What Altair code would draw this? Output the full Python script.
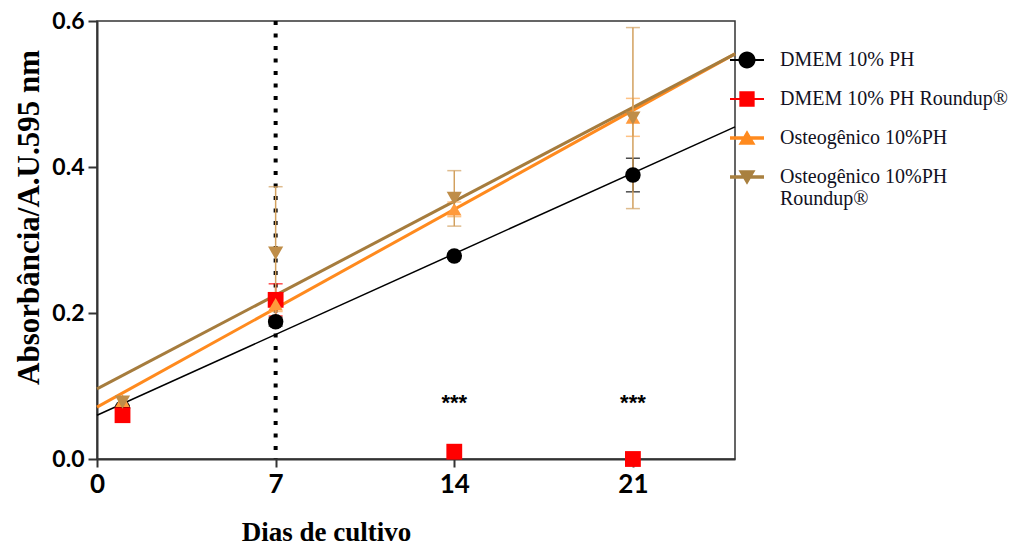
import altair as alt
import pandas as pd

# ---- data ----
dias = [1, 7, 14, 21]
series = ["DMEM 10% PH", "DMEM 10% PH Roundup®", "Osteogênico 10%PH", "Osteogênico  10%PH Roundup®"]

dmem = [0.070, 0.188, 0.278, 0.389]
dmem_err = [0.0, 0.006, 0.0, 0.023]
dmem_r = [0.060, 0.218, 0.010, 0.000]
dmem_r_err = [0.0, 0.022, 0.0, 0.0]
osteo = [0.080, 0.212, 0.342, 0.468]
osteo_err = [0.0, 0.010, 0.010, 0.026]
osteo_r = [0.078, 0.282, 0.357, 0.467]
osteo_r_err = [0.0, 0.091, 0.038, 0.124]

fit_x = [0, 25]
fit_dmem = [0.060, 0.455]
fit_osteo = [0.071, 0.555]
fit_osteo_r = [0.096, 0.555]

sig_x = [14, 21]
sig_y = [0.077, 0.077]
sig_text = ["***", "***"]

vline_x = [7]

# ---- styling ----
legend_colors = ["#000000", "#FF0000", "#FF8A1E", "#A9803F"]
marker_colors = ["#000000", "#FF0000", "#FF9A3C", "#BF8D48"]
err_colors = ["#000000", "#FF0000", "#FFA850", "#D2A05E"]
fit_colors = ["#000000", None, "#FF8A1E", "#A67C3D"]
fit_widths = [1.5, 0, 3, 3]
shapes = ["circle", "square", "triangle-up", "triangle-down"]
sizes = [240, 250, 210, 230]

legend_paths = [
    "M-1,-0.06H1V0.06H-1Z M0.5,0A0.5,0.5 0 1,1 -0.5,0A0.5,0.5 0 1,1 0.5,0Z",
    "M-1,-0.06H1V0.06H-1Z M-0.45,-0.45H0.45V0.45H-0.45Z",
    "M-1,-0.1H1V0.1H-1Z M0,-0.45L0.5,0.4L-0.5,0.4Z",
    "M-1,-0.1H1V0.1H-1Z M0,0.45L-0.5,-0.4L0.5,-0.4Z",
]

# ---- tables ----
vals = [dmem, dmem_r, osteo, osteo_r]
errs = [dmem_err, dmem_r_err, osteo_err, osteo_r_err]
rows = []
for s, v, e in zip(series, vals, errs):
    for d, vv, ee in zip(dias, v, e):
        rows.append({"serie": s, "dia": d, "valor": vv, "lo": vv - ee, "hi": vv + ee, "err": ee})
df = pd.DataFrame(rows)
df_err = df[df["err"] > 0].copy()

fits = [fit_dmem, None, fit_osteo, fit_osteo_r]
frows = []
for s, f in zip(series, fits):
    if f is None:
        continue
    for xx, yy in zip(fit_x, f):
        frows.append({"serie": s, "dia": xx, "valor": yy})
df_fit = pd.DataFrame(frows)

df_sig = pd.DataFrame({"dia": sig_x, "valor": sig_y, "txt": sig_text})
df_vline = pd.DataFrame({"dia": vline_x})

# ---- scales / axes ----
xs = alt.Scale(domain=[0, 25], nice=False, zero=False)
ys = alt.Scale(domain=[0, 0.6], nice=False)

xaxis = alt.Axis(
    values=[0, 7, 14, 21], title="Dias de cultivo", grid=False, labelFlush=False,
    labelFont="Lato", labelFontWeight="bold", labelFontSize=26, labelColor="black",
    labelPadding=4, tickSize=8, tickWidth=2, tickColor="#333", domainColor="#333", domainWidth=2,
    titleFont="Liberation Serif", titleFontSize=27, titleFontWeight="bold", titleColor="black",
    titleX=229, titleY=81, titleAlign="center", titleBaseline="alphabetic",
)
yaxis = alt.Axis(
    values=[0, 0.2, 0.4, 0.6], format=".1f", title="Absorbância/A.U.595 nm", grid=False,
    labelFlush=False,
    labelFont="Lato", labelFontWeight="bold", labelFontSize=23, labelColor="black",
    labelPadding=4, tickSize=9, tickWidth=2, tickColor="#333", domainColor="#333", domainWidth=2,
    titleFont="Liberation Serif", titleFontSize=31, titleFontWeight="bold", titleColor="black",
    titleX=-68, titleY=196, titleAlign="center", titleBaseline="middle",
)

X = alt.X("dia:Q", scale=xs, axis=xaxis)
Y = alt.Y("valor:Q", scale=ys, axis=yaxis)

layers = []

# dotted vertical line at day 7
layers.append(
    alt.Chart(df_vline).mark_rule(color="black", strokeWidth=4, strokeDash=[4, 8.5]).encode(x=X)
)

# regression lines
for i, s in enumerate(series):
    if fit_colors[i] is None:
        continue
    layers.append(
        alt.Chart(df_fit).transform_filter(alt.datum.serie == s)
        .mark_line(color=fit_colors[i], strokeWidth=fit_widths[i])
        .encode(x=X, y=Y)
    )

# error bars + points
for i, s in enumerate(series):
    sub = alt.Chart(df_err).transform_filter(alt.datum.serie == s)
    layers.append(
        sub.mark_rule(color=err_colors[i], strokeWidth=1.5).encode(
            x=X, y=alt.Y("lo:Q", scale=ys, axis=yaxis), y2="hi:Q")
    )
    layers.append(
        sub.mark_tick(color=err_colors[i], orient="horizontal", size=14, thickness=1.5).encode(
            x=X, y=alt.Y("hi:Q", scale=ys, axis=yaxis))
    )
    layers.append(
        sub.mark_tick(color=err_colors[i], orient="horizontal", size=14, thickness=1.5).encode(
            x=X, y=alt.Y("lo:Q", scale=ys, axis=yaxis))
    )

for i, s in enumerate(series):
    layers.append(
        alt.Chart(df).transform_filter(alt.datum.serie == s)
        .mark_point(shape=shapes[i], filled=True, size=sizes[i], color=marker_colors[i], opacity=1)
        .encode(x=X, y=Y)
    )

# significance marks
layers.append(
    alt.Chart(df_sig).mark_text(font="Liberation Sans", fontWeight="bold", fontSize=22,
                                color="black", baseline="middle")
    .encode(x=X, y=Y, text="txt:N")
)

# legend (only legend, no visible marks)
leg = alt.Legend(
    title=None, orient="none", legendX=633, legendY=22, padding=0,
    symbolSize=1156, symbolStrokeWidth=0, labelOffset=16, rowPadding=12,
    labelFont="Liberation Serif", labelFontSize=20, labelColor="#111122", labelLimit=400,
    labelExpr="datum.label == 'Osteogênico  10%PH Roundup®' ? ['Osteogênico  10%PH', 'Roundup®'] : datum.label",
)
layers.append(
    alt.Chart(df).transform_filter("false")
    .mark_point(filled=True, opacity=1)
    .encode(
        x=X, y=Y,
        color=alt.Color("serie:N", scale=alt.Scale(domain=series, range=legend_colors), legend=leg),
        shape=alt.Shape("serie:N", scale=alt.Scale(domain=series, range=legend_paths), legend=leg),
    )
)

chart = alt.layer(*layers).properties(
    width=638, height=438,
    autosize=alt.AutoSizeParams(type="none"),
    padding={"left": 97, "top": 21, "right": 281, "bottom": 87},
).configure_view(stroke="#333", strokeWidth=1.5)

chart.save("out.html", embed_options={"renderer": "svg", "actions": False})
